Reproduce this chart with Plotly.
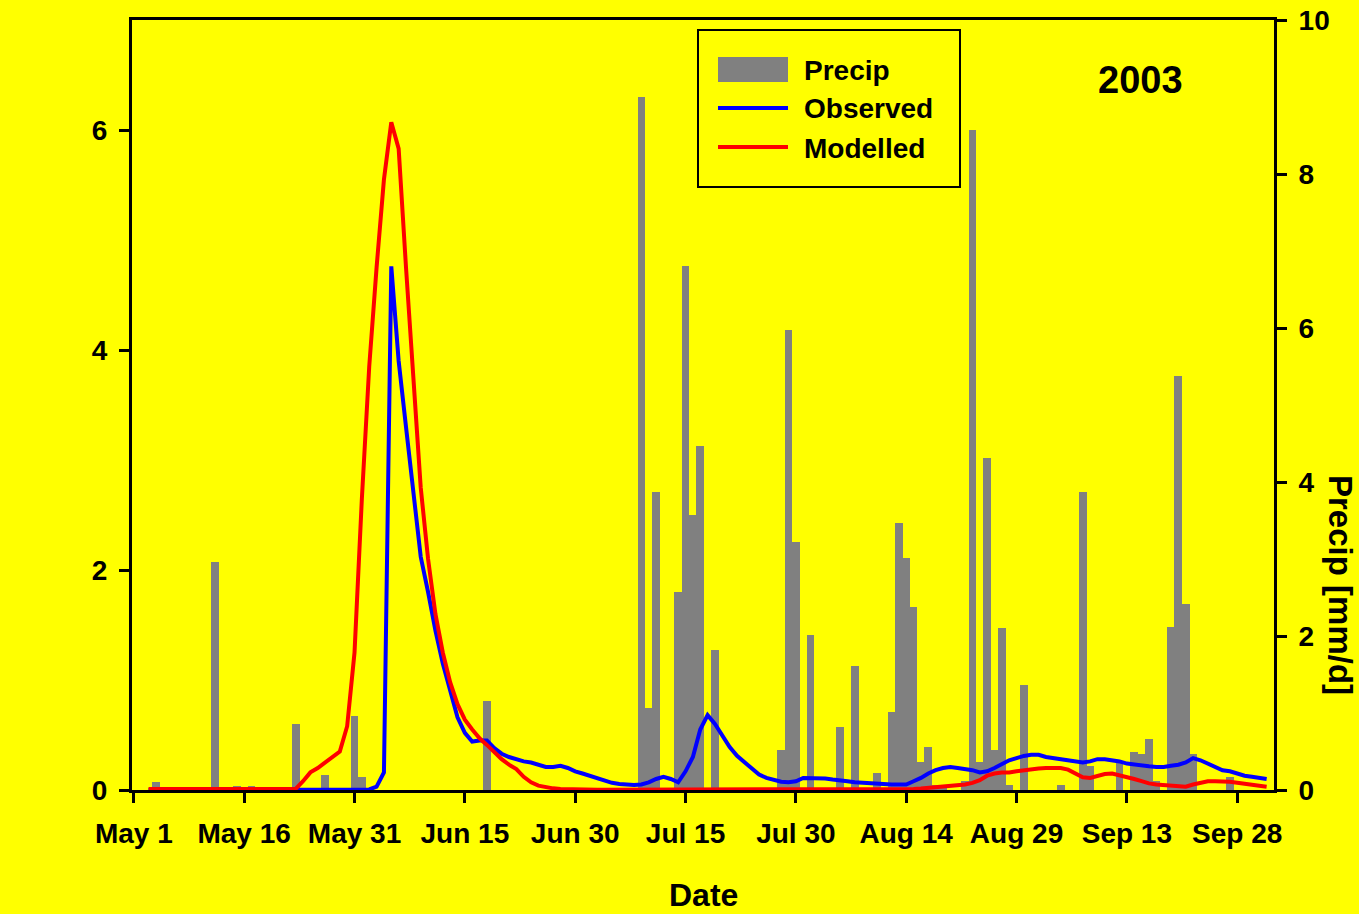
import pandas as pd
import plotly.graph_objects as go

# ---- data -------------------------------------------------------------
# daily precipitation [mm/d] (rain days only)
precip_dates = [
    "2003-05-04", "2003-05-12", "2003-05-15", "2003-05-17", "2003-05-23", "2003-05-27",
    "2003-05-31", "2003-06-01", "2003-06-18", "2003-07-09", "2003-07-10", "2003-07-11",
    "2003-07-14", "2003-07-15", "2003-07-16", "2003-07-17", "2003-07-19", "2003-07-28",
    "2003-07-29", "2003-07-30", "2003-08-01", "2003-08-05", "2003-08-07", "2003-08-10",
    "2003-08-12", "2003-08-13", "2003-08-14", "2003-08-15", "2003-08-16", "2003-08-17",
    "2003-08-18", "2003-08-19", "2003-08-22", "2003-08-23", "2003-08-24", "2003-08-25",
    "2003-08-26", "2003-08-27", "2003-08-28", "2003-08-30", "2003-09-04", "2003-09-07",
    "2003-09-08", "2003-09-12", "2003-09-14", "2003-09-15", "2003-09-16", "2003-09-17",
    "2003-09-19", "2003-09-20", "2003-09-21", "2003-09-22", "2003-09-27",
]
precip_mm = [
    0.10, 2.96, 0.05, 0.05, 0.86, 0.20,
    0.96, 0.17, 1.16, 9.00, 1.07, 3.87,
    2.57, 6.80, 3.57, 4.47, 1.82, 0.52,
    5.97, 3.22, 2.01, 0.82, 1.61, 0.22,
    1.01, 3.47, 3.01, 2.38, 0.36, 0.56,
    0.06, 0.06, 0.12, 8.57, 0.36, 4.31,
    0.52, 2.10, 0.06, 1.36, 0.06, 3.87,
    0.31, 0.35, 0.50, 0.47, 0.66, 0.12,
    2.12, 5.38, 2.42, 0.47, 0.17,
]

# daily discharge, 3 May - 3 Oct 2003
flow_start = "2003-05-03"
observed = [
    0, 0, 0, 0, 0, 0, 0, 0, 0, 0,
    0, 0, 0, 0, 0, 0, 0, 0, 0, 0,
    0, 0, 0, 0, 0, 0, 0, 0, 0, 0,
    0.005, 0.03, 0.16, 4.76, 3.9, 3.3, 2.7, 2.12, 1.8, 1.45,
    1.15, 0.9, 0.66, 0.52, 0.44, 0.45, 0.45, 0.38, 0.33, 0.3,
    0.28, 0.26, 0.25, 0.23, 0.21, 0.21, 0.22, 0.2, 0.17, 0.15,
    0.13, 0.11, 0.085, 0.065, 0.055, 0.05, 0.045, 0.05, 0.07, 0.1,
    0.12, 0.1, 0.07, 0.17, 0.3, 0.55, 0.68, 0.6, 0.5, 0.39,
    0.31, 0.25, 0.2, 0.14, 0.11, 0.09, 0.075, 0.07, 0.08, 0.11,
    0.11, 0.11, 0.105, 0.095, 0.09, 0.08, 0.07, 0.065, 0.06, 0.055,
    0.05, 0.05, 0.05, 0.05, 0.08, 0.11, 0.15, 0.18, 0.2, 0.21,
    0.2, 0.19, 0.18, 0.16, 0.17, 0.2, 0.24, 0.27, 0.29, 0.31,
    0.32, 0.32, 0.3, 0.29, 0.28, 0.27, 0.26, 0.25, 0.26, 0.28,
    0.28, 0.27, 0.26, 0.24, 0.23, 0.22, 0.215, 0.21, 0.21, 0.22,
    0.23, 0.25, 0.29, 0.27, 0.24, 0.21, 0.18, 0.17, 0.15, 0.13,
    0.12, 0.11, 0.1,
]
modelled = [
    0.01, 0.01, 0.01, 0.01, 0.01, 0.01, 0.01, 0.01, 0.01, 0.01,
    0.01, 0.01, 0.01, 0.01, 0.01, 0.01, 0.01, 0.01, 0.01, 0.01,
    0.01, 0.08, 0.16, 0.2, 0.25, 0.29, 0.35, 0.58, 1.25, 2.65,
    3.85, 4.75, 5.55, 6.07, 5.83, 4.75, 3.7, 2.75, 2.1, 1.6,
    1.25, 0.98, 0.78, 0.64, 0.55, 0.47, 0.41, 0.34, 0.28, 0.23,
    0.19, 0.12, 0.07, 0.04, 0.025, 0.015, 0.01, 0.007, 0.005, 0.005,
    0.003, 0.003, 0.003, 0.003, 0.003, 0.003, 0.003, 0.003, 0.003, 0.003,
    0.003, 0.003, 0.003, 0.003, 0.003, 0.003, 0.003, 0.003, 0.003, 0.003,
    0.002, 0.002, 0.002, 0.002, 0.002, 0.002, 0.002, 0.002, 0.002, 0.002,
    0.002, 0.002, 0.002, 0.002, 0.002, 0.002, 0.002, 0.002, 0.002, 0.002,
    0.002, 0.003, 0.004, 0.006, 0.01, 0.013, 0.018, 0.022, 0.027, 0.032,
    0.04, 0.05, 0.065, 0.09, 0.13, 0.15, 0.16, 0.16, 0.17, 0.18,
    0.19, 0.195, 0.2, 0.2, 0.2, 0.185, 0.15, 0.115, 0.11, 0.13,
    0.145, 0.15, 0.135, 0.12, 0.1, 0.08, 0.06, 0.05, 0.045, 0.04,
    0.035, 0.03, 0.05, 0.065, 0.08, 0.08, 0.08, 0.075, 0.065, 0.055,
    0.045, 0.04, 0.03,
]

tick_dates = ["2003-05-01", "2003-05-16", "2003-05-31", "2003-06-15", "2003-06-30",
              "2003-07-15", "2003-07-30", "2003-08-14", "2003-08-29", "2003-09-13",
              "2003-09-28"]
tick_labels = ["May 1", "May 16", "May 31", "Jun 15", "Jun 30", "Jul 15", "Jul 30",
               "Aug 14", "Aug 29", "Sep 13", "Sep 28"]

flow_dates = pd.date_range(flow_start, periods=len(observed), freq="D")

# ---- styling ----------------------------------------------------------
FONT = "Liberation Sans, Arial, sans-serif"
YELLOW = "#ffff00"
DAY_MS = 86400000


def bold(size):
    return dict(family=FONT, size=size, color="black", weight="bold")


fig = go.Figure()

# precipitation bars (right axis)
fig.add_trace(go.Bar(
    x=precip_dates, y=precip_mm, yaxis="y", name="Precip",
    width=DAY_MS * 1.06, marker=dict(color="#808080", line=dict(width=0)),
    showlegend=False,
))
# discharge lines (left axis, overlaid so they sit above the bars)
fig.add_trace(go.Scatter(
    x=flow_dates, y=observed, yaxis="y2", mode="lines", name="Observed",
    line=dict(color="#0000ff", width=4), showlegend=False,
))
fig.add_trace(go.Scatter(
    x=flow_dates, y=modelled, yaxis="y2", mode="lines", name="Modelled",
    line=dict(color="#ff0000", width=4), showlegend=False,
))

axis_common = dict(
    showgrid=False, zeroline=False, showline=True, linecolor="black", linewidth=3,
    ticks="outside", ticklen=10, tickwidth=3, tickcolor="black",
    tickfont=bold(28), automargin=False,
)

fig.update_layout(
    width=1359, height=914,
    margin=dict(l=132, r=85, t=20, b=124, pad=0),
    paper_bgcolor=YELLOW, plot_bgcolor=YELLOW,
    bargap=0,
    xaxis=dict(
        axis_common, type="date",
        range=["2003-04-30 18:00", "2003-10-03 00:00"],
        tickmode="array", tickvals=tick_dates, ticktext=tick_labels,
        mirror=True, layer="below traces", ticklabelstandoff=6,
    ),
    yaxis=dict(
        axis_common, side="right", range=[0, 10],
        tickmode="array", tickvals=[0, 2, 4, 6, 8, 10],
        layer="below traces", ticklabelstandoff=6,
    ),
    yaxis2=dict(
        axis_common, side="left", overlaying="y", range=[0, 7],
        tickmode="array", tickvals=[0, 2, 4, 6],
        layer="below traces", ticklabelstandoff=6,
    ),
    showlegend=False,
)

# ---- legend box drawn with shapes -----------------------------------------
PLOT_L, PLOT_W = 132, 1142
PLOT_B, PLOT_H = 790, 770


def px_x(p):
    return (p - PLOT_L) / PLOT_W


def px_y(p):
    return (PLOT_B - p) / PLOT_H


shapes = [
    dict(type="rect", xref="paper", yref="paper",
         x0=px_x(698), x1=px_x(960), y0=px_y(187), y1=px_y(30),
         line=dict(color="black", width=2), fillcolor=YELLOW, layer="above"),
    dict(type="rect", xref="paper", yref="paper",
         x0=px_x(718), x1=px_x(788), y0=px_y(82), y1=px_y(57),
         line=dict(width=0), fillcolor="#808080", layer="above"),
    dict(type="line", xref="paper", yref="paper",
         x0=px_x(718), x1=px_x(788), y0=px_y(108), y1=px_y(108),
         line=dict(color="#0000ff", width=4), layer="above"),
    dict(type="line", xref="paper", yref="paper",
         x0=px_x(718), x1=px_x(788), y0=px_y(147), y1=px_y(147),
         line=dict(color="#ff0000", width=4), layer="above"),
]
fig.update_layout(shapes=shapes)

annotations = []
for label, ypix in [("Precip", 70), ("Observed", 109), ("Modelled", 148)]:
    annotations.append(dict(
        text=label, xref="paper", yref="paper", x=px_x(802), y=px_y(ypix),
        xanchor="left", yanchor="middle", showarrow=False, font=bold(28),
    ))

annotations += [
    dict(text="2003", xref="paper", yref="paper", x=px_x(1140), y=px_y(80),
         xanchor="center", yanchor="middle", showarrow=False, font=bold(38)),
    dict(text="Date", xref="paper", yref="paper", x=px_x(703), y=px_y(895),
         xanchor="center", yanchor="middle", showarrow=False, font=bold(32)),
    dict(text="Precip [mm/d]", xref="paper", yref="paper", x=px_x(1341), y=px_y(585),
         xanchor="center", yanchor="middle", textangle=90, showarrow=False,
         font=bold(33)),
]
fig.update_layout(annotations=annotations)

fig.write_html("out.html")
